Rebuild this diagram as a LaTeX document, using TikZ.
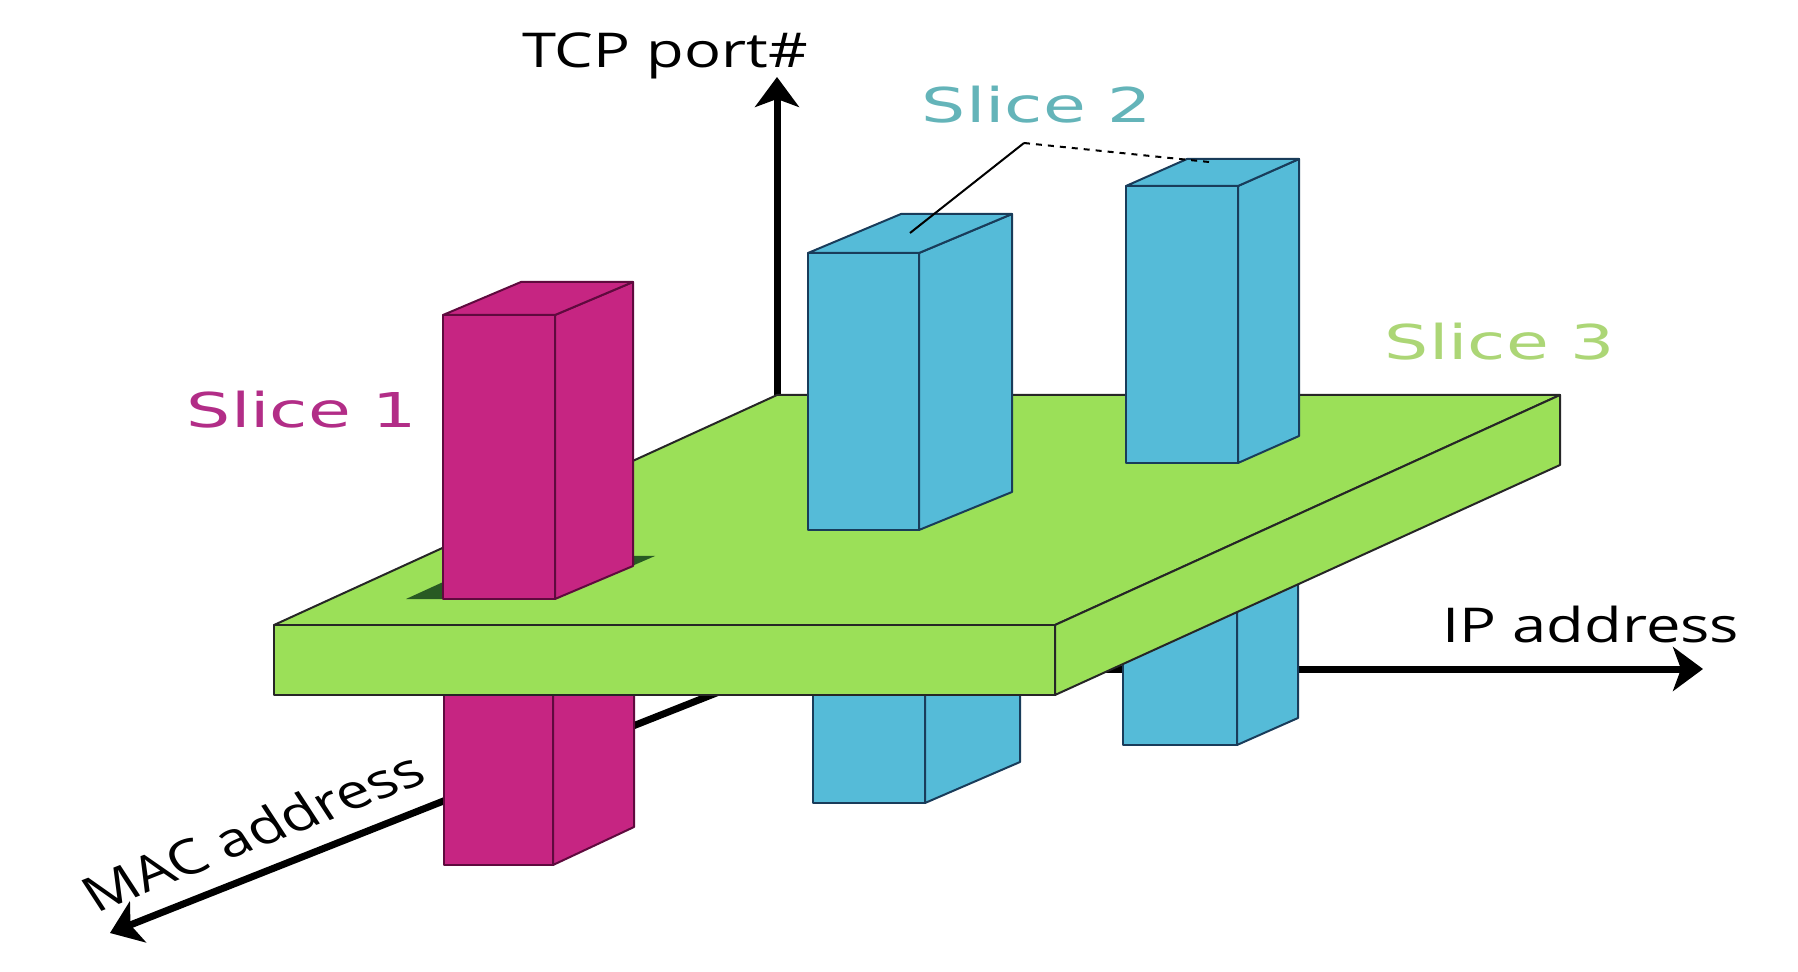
\documentclass[tikz,border=0pt]{standalone}
\usepackage{fontspec}
\usetikzlibrary{arrows.meta}
\newfontfamily\slicefont{DejaVu Sans}
\newfontfamily\axisfont{Open Sans}
\definecolor{slmag}{RGB}{198,37,130}
\definecolor{slmagdark}{RGB}{95,10,62}
\definecolor{slblue}{RGB}{85,187,216}
\definecolor{slbluedark}{RGB}{25,60,90}
\definecolor{slgreen}{RGB}{155,224,88}
\definecolor{slhole}{RGB}{40,90,35}
\definecolor{txtmag}{RGB}{178,45,135}
\definecolor{txtblue}{RGB}{100,180,185}
\definecolor{txtgreen}{RGB}{172,214,118}
\tikzstyle{magface}   = [fill=slmag, draw=slmagdark, line width=1pt, line join=round]
\tikzstyle{blueface}  = [fill=slblue, draw=slbluedark, line width=1pt, line join=round]
\tikzstyle{slabface}  = [fill=slgreen, draw=black!85, line width=1pt, line join=round]
\tikzstyle{axisline}  = [draw, line width=3.5pt, -{Stealth[length=15pt,width=22pt,inset=4pt]}]
\tikzstyle{leader}    = [draw, line width=1pt]
\tikzstyle{slicelbl}  = [font=\slicefont\fontsize{24}{28}\selectfont, xscale=1.45, anchor=base, inner sep=0pt]
\tikzstyle{axislbl}   = [font=\axisfont\fontsize{24}{28}\selectfont, xscale=1.28, anchor=base, inner sep=0pt]

\begin{document}
\begin{tikzpicture}[x=0.5pt, y=-0.5pt]
        \useasboundingbox (0,0) rectangle (1798,972);

        % axes, drawn first so the slab hides them
        \coordinate (origin) at (777,669);
        \coordinate (tcptip) at (777,77);
        \coordinate (iptip) at (1703,669);
        \coordinate (mactip) at (110,933);
        \path [axisline] (origin) -- (tcptip);
        \path [axisline] (origin) -- (iptip);
        \path [axisline] (origin) -- (mactip);

        % slices below the slab
        \path [magface] (444,680) -- (553,680) -- (553,865) -- (444,865) -- cycle;
        \path [magface] (553,680) -- (634,646) -- (634,827) -- (553,865) -- cycle;
        \path [blueface] (813,680) -- (925,680) -- (925,803) -- (813,803) -- cycle;
        \path [blueface] (925,680) -- (1020,640) -- (1020,762) -- (925,803) -- cycle;
        \path [blueface] (1123,600) -- (1237,600) -- (1237,745) -- (1123,745) -- cycle;
        \path [blueface] (1237,600) -- (1298,572) -- (1298,718) -- (1237,745) -- cycle;

        % slice 3 slab
        \path [slabface] (274,625) -- (1055,625) -- (1560,395) -- (777,395) -- cycle;
        \path [slabface] (274,625) -- (1055,625) -- (1055,695) -- (274,695) -- cycle;
        \path [slabface] (1055,625) -- (1560,395) -- (1560,465) -- (1055,695) -- cycle;
        \path [fill=slhole] (406,599) -- (556,599) -- (655,556) -- (500,556) -- cycle;

        % slices above the slab
        \path [magface] (443,315) -- (555,315) -- (555,599) -- (443,599) -- cycle;
        \path [magface] (555,315) -- (633,282) -- (633,566) -- (555,599) -- cycle;
        \path [magface] (443,315) -- (555,315) -- (633,282) -- (521,282) -- cycle;
        \path [blueface] (808,253) -- (919,253) -- (919,530) -- (808,530) -- cycle;
        \path [blueface] (919,253) -- (1012,214) -- (1012,492) -- (919,530) -- cycle;
        \path [blueface] (808,253) -- (919,253) -- (1012,214) -- (901,214) -- cycle;
        \path [blueface] (1126,186) -- (1238,186) -- (1238,463) -- (1126,463) -- cycle;
        \path [blueface] (1238,186) -- (1299,159) -- (1299,436) -- (1238,463) -- cycle;
        \path [blueface] (1126,186) -- (1238,186) -- (1299,159) -- (1187,159) -- cycle;

        % labels
        \node [slicelbl, text=txtmag] (slicea) at (302,428) {Slice 1};
        \node [slicelbl, text=txtblue] (sliceb) at (1037,123) {Slice 2};
        \node [slicelbl, text=txtgreen] (slicec) at (1500,360) {Slice 3};
        \node [axislbl] (tcplbl) at (665,68) {TCP port\#};
        \node [axislbl] (iplbl) at (1591,642) {IP address};
        \node [axislbl, rotate=27] (maclbl) at (263,847) {MAC address};

        \coordinate (bluea) at (910,233);
        \coordinate (bend) at (1024,143);
        \coordinate (blueb) at (1209,162);
        \path [leader] (bluea) -- (bend);
        \path [leader, dashed] (bend) -- (blueb);
      \end{tikzpicture}
\end{document}
